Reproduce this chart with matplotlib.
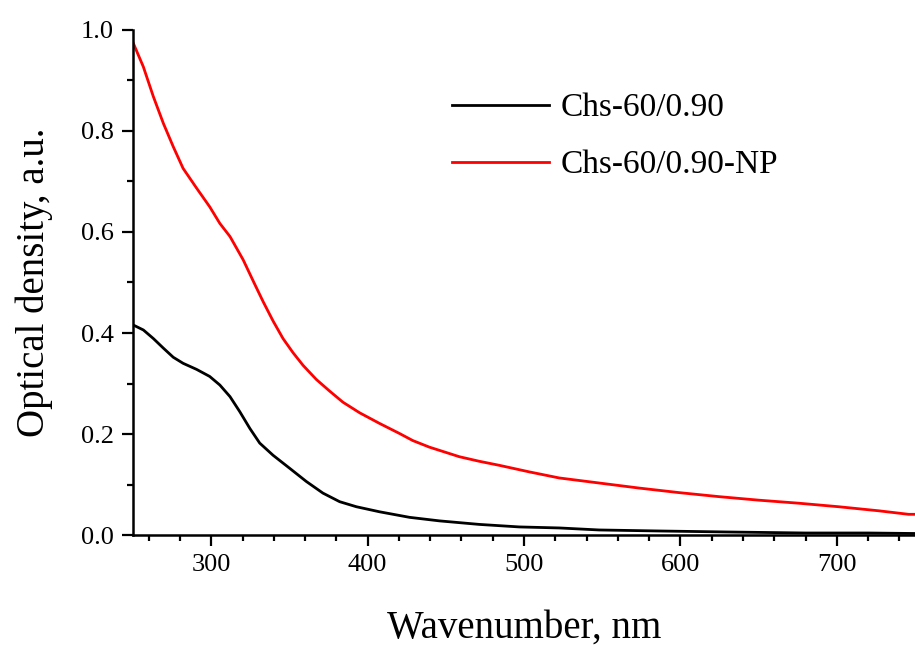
import numpy as np
import matplotlib
matplotlib.use("Agg")
import matplotlib.pyplot as plt
from matplotlib.ticker import MultipleLocator

plt.rcParams['font.family'] = ['Liberation Serif', 'DejaVu Serif']

# ------------------------
# data
# ------------------------
wl_black = [250, 256.6, 263, 269.4, 275.7, 282, 290.6, 299, 305.5, 312, 318.3,
            324.7, 331, 339.5, 350.2, 360.8, 371.4, 382.1, 392.8, 407.6, 426.8,
            445.9, 471.4, 497, 522.5, 548, 586.3, 630, 680, 720, 750]
od_black = [0.416, 0.406, 0.389, 0.370, 0.352, 0.340, 0.328, 0.314, 0.297, 0.274, 0.244,
            0.211, 0.182, 0.158, 0.132, 0.106, 0.083, 0.066, 0.056, 0.046, 0.035,
            0.028, 0.021, 0.016, 0.014, 0.010, 0.008, 0.006, 0.004, 0.004, 0.003]

wl_red = [250, 256.6, 263, 269.4, 275.7, 282, 290.6, 299, 305.5, 312, 320.4,
          327.9, 333.2, 339.5, 345.9, 352.3, 358.7, 367.2, 375.7, 384.2, 394.9,
          407.6, 420.4, 428.9, 439.5, 458.7, 471.4, 484.2, 503.4, 522.5, 548,
          573.5, 599, 624.6, 650.1, 675.6, 701.2, 726.7, 745.9, 750]
od_red = [0.975, 0.927, 0.868, 0.815, 0.769, 0.726, 0.687, 0.650, 0.617, 0.591, 0.545,
          0.496, 0.462, 0.424, 0.389, 0.361, 0.336, 0.308, 0.285, 0.263, 0.242,
          0.221, 0.201, 0.187, 0.174, 0.155, 0.146, 0.138, 0.125, 0.113, 0.103,
          0.093, 0.084, 0.076, 0.069, 0.063, 0.056, 0.048, 0.041, 0.041]

labels = ["Chs-60/0.90", "Chs-60/0.90-NP"]

# ------------------------
# figure
# ------------------------
fig = plt.figure(figsize=(9.15, 6.46), dpi=100)
ax = fig.add_axes([0.1454, 0.1718, 0.8546, 0.7818])

ax.plot(wl_black, od_black, color="black", lw=2.0, label=labels[0])
ax.plot(wl_red, od_red, color="red", lw=2.0, label=labels[1])

ax.set_xlim(250, 750)
ax.set_ylim(0, 1.0)
ax.xaxis.set_major_locator(MultipleLocator(100))
ax.xaxis.set_minor_locator(MultipleLocator(20))
ax.yaxis.set_major_locator(MultipleLocator(0.2))
ax.yaxis.set_minor_locator(MultipleLocator(0.1))
ax.yaxis.set_major_formatter(plt.FuncFormatter(lambda v, p: f"{v:.1f}"))

for s in ["top", "right"]:
    ax.spines[s].set_visible(False)
for s in ["left", "bottom"]:
    ax.spines[s].set_linewidth(1.8)

ax.tick_params(which="major", direction="out", length=8, width=1.6, labelsize=19, pad=6)
ax.tick_params(which="minor", direction="out", length=4.5, width=1.6)

ax.set_xlabel("Wavenumber, nm", fontsize=28, labelpad=24)
ax.set_ylabel("Optical density, a.u.", fontsize=28, labelpad=20)

leg = ax.legend(loc="upper left", bbox_to_anchor=(0.37, 0.935), frameon=False,
                fontsize=24, handlelength=2.9, handletextpad=0.35, labelspacing=0.8)

plt.savefig("out.png", dpi=100)
plt.close()
